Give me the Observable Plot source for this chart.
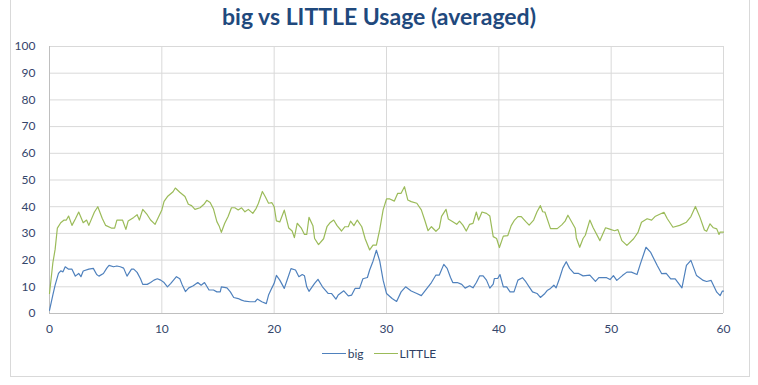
<!DOCTYPE html>
<html>
<head>
<meta charset="utf-8">
<script src="https://cdn.jsdelivr.net/npm/d3@7"></script>
<script src="https://cdn.jsdelivr.net/npm/@observablehq/plot@0.6"></script>
<style>
  html, body { margin: 0; padding: 0; background: #fff; width: 758px; height: 385px; overflow: hidden; }
  #frame { position: absolute; left: 10px; top: -2px; width: 738px; height: 377px; border: 1px solid #D9D9D9; }
  #title { position: absolute; left: 0; top: 2px; width: 758px; text-align: center; font-family: Lato, "Open Sans", sans-serif; font-weight: bold; font-size: 23px; color: #1F497D; }
  #chart { position: absolute; left: 0; top: 30px; }
  #legend { position: absolute; left: 0; top: 346px; width: 758px; display: flex; justify-content: center; align-items: center; font-family: Lato, sans-serif; font-size: 12px; color: #2E3F63; }
  .item { display: flex; align-items: center; margin: 0 5px; }
  .sw { display: inline-block; width: 24px; height: 0; border-top: 1.3px solid; margin-right: 2px; }
</style>
</head>
<body>
<div id="frame"></div>
<div id="title">big vs LITTLE Usage (averaged)</div>
<div id="chart"></div>
<div id="legend"></div>
<script>
const seriesNames = ["big", "LITTLE"];
const seriesColors = ["#4F81BD", "#9BBB59"];
const xTicks = [0, 10, 20, 30, 40, 50, 60];
const yTicks = [0, 10, 20, 30, 40, 50, 60, 70, 80, 90, 100];

const big = [[0,1.2],[0.3,7],[0.5,10.6],[0.8,15],[1,16],[1.2,15.6],[1.4,17.5],[1.7,16.6],[2,16.6],[2.3,14],[2.6,15],[2.8,13.8],[3,15.9],[3.5,16.6],[3.9,16.9],[4.2,14.6],[4.4,14],[4.8,15],[5.1,17],[5.3,18],[5.7,17.5],[6,17.8],[6.3,17.5],[6.6,17],[6.9,14],[7.3,16.6],[7.5,16.6],[7.8,15.4],[8.1,13],[8.3,10.9],[8.7,10.9],[9,11.6],[9.3,12.5],[9.6,13],[9.9,12.5],[10.2,11.6],[10.5,10],[10.8,11.3],[11.3,13.8],[11.6,13],[11.8,10.9],[12.1,8.2],[12.4,9.6],[12.8,10.4],[13.2,11.6],[13.5,10.6],[13.8,11.6],[14.2,8.8],[14.6,8.8],[14.9,8.1],[15.2,8.1],[15.3,10],[15.8,9.6],[16.1,8.1],[16.4,6],[16.8,5.6],[17.1,5],[17.4,4.6],[17.85,4.4],[18.3,4.4],[18.5,5.4],[18.9,4.4],[19.3,3.7],[19.5,6.9],[19.8,9.6],[20.0,11.3],[20.2,14.3],[20.5,12.5],[20.9,9.4],[21.2,13.1],[21.5,16.8],[21.9,16.3],[22.2,13.8],[22.5,14.6],[22.7,14.1],[22.9,10],[23.1,8.3],[23.6,11.3],[23.9,12.8],[24.3,10],[24.8,7.5],[25.1,7.5],[25.5,5.4],[25.7,6.9],[26.2,8.5],[26.6,6.6],[26.9,6.9],[27.2,9.4],[27.6,9.4],[27.9,13],[28.3,13.5],[28.5,16.3],[28.8,19.6],[29.1,23.7],[29.4,19.6],[29.7,12.5],[30.0,7.5],[30.5,5.6],[30.9,4.5],[31.3,8.1],[31.7,10],[32.2,8.4],[32.7,7.5],[33.1,6.7],[33.6,9.4],[34.0,11.6],[34.4,14.4],[34.7,14.4],[35.1,18.4],[35.4,16.9],[35.7,13.5],[35.9,11.6],[36.3,11.6],[36.7,10.9],[37.0,9.5],[37.4,10.4],[37.7,9.6],[38.0,11.6],[38.3,14.1],[38.6,14.1],[38.9,12.5],[39.2,9.5],[39.5,11],[39.6,13.1],[39.9,13.1],[40.1,14.6],[40.4,10],[40.7,10],[41.0,8.1],[41.35,8.1],[41.7,12.5],[42.1,13.4],[42.4,11.9],[42.7,10],[43.0,8.1],[43.4,7.5],[43.7,6],[44.1,7.5],[44.3,8.6],[44.6,9.4],[44.9,10.6],[45.1,9.6],[45.4,13.1],[45.7,17.1],[46.0,19.4],[46.3,16.9],[46.7,15],[47.1,15],[47.5,14.1],[48.1,14.4],[48.6,12],[48.9,13.4],[49.6,13.4],[49.9,12.7],[50.2,14.2],[50.5,12.4],[51.0,14.2],[51.4,15.5],[51.8,15.5],[52.3,14.6],[52.6,18.6],[53.1,24.8],[53.5,23],[54.1,18],[54.5,14.9],[54.9,15],[55.3,13],[55.7,13],[56.3,9.6],[56.7,18],[57.1,19.9],[57.6,14.2],[58.2,12.4],[58.5,12],[58.9,12.4],[59.4,8],[59.7,6.7],[59.9,8.4],[60,8.4]];

const little = [[0,7.5],[0.3,19],[0.5,24],[0.7,32],[1,34],[1.3,35],[1.5,35],[1.7,36.5],[2,33],[2.3,35.4],[2.6,38],[3,34],[3.3,35],[3.5,33],[4,38],[4.3,40],[4.7,35.6],[5,33],[5.5,32],[5.8,32],[6,35],[6.5,35],[6.8,31.5],[7,34.6],[7.5,36],[7.8,37],[8,35],[8.3,39],[8.7,37],[9,35],[9.4,33.4],[10,38.8],[10.2,42],[10.5,43.8],[11,45.6],[11.2,47],[11.6,45.4],[12.06,43.8],[12.36,40.9],[12.65,40.4],[12.95,39],[13.4,39.6],[13.75,40.9],[14,42.4],[14.3,41.6],[14.6,39.1],[14.9,34.4],[15.1,32.8],[15.3,30.4],[15.6,33.8],[15.9,36.3],[16.2,39.6],[16.5,39.6],[16.8,38.8],[17.1,39.6],[17.4,38.1],[17.7,39],[18.1,37.5],[18.4,39.4],[18.6,41.3],[18.95,45.7],[19.2,43.8],[19.5,41.3],[19.8,41.5],[20.0,40],[20.2,34.7],[20.5,34.3],[20.9,38.7],[21.3,32],[21.6,30.9],[21.8,28.4],[22.05,33.8],[22.4,32.1],[22.7,29.6],[22.9,29.6],[23.1,36],[23.45,32.9],[23.6,28.1],[23.95,25.8],[24.4,28],[24.7,32.5],[25.0,34.1],[25.3,35],[25.6,32.9],[26.0,30.9],[26.3,32.5],[26.6,32.5],[26.8,34.6],[27.1,32.9],[27.4,35],[27.8,32.5],[28.1,28],[28.5,23.8],[28.8,25.6],[29.1,25.6],[29.4,31.5],[29.7,38.8],[30.0,42.9],[30.3,42.9],[30.7,42.1],[31.0,45],[31.3,45],[31.6,47.5],[31.9,42.5],[32.2,41.9],[32.7,41.3],[33.1,38.8],[33.4,35],[33.7,31],[34.0,32.5],[34.4,30.8],[34.7,32],[34.9,36.4],[35.3,39],[35.5,35.4],[35.9,34.4],[36.25,33.4],[36.5,34.6],[36.8,33.1],[37.1,30.9],[37.4,33.4],[37.7,33.75],[38.0,38],[38.2,35],[38.5,38],[38.9,37.5],[39.2,36.5],[39.5,28.8],[39.8,28.1],[40.05,24.7],[40.4,29],[40.8,29.2],[41.1,32.9],[41.4,35],[41.7,36.3],[42.0,36.3],[42.4,34.4],[42.7,33.1],[43.1,35],[43.4,38.1],[43.7,40.4],[43.9,38.1],[44.1,38],[44.6,31.8],[44.9,31.8],[45.2,31.8],[45.6,33.2],[45.9,34.6],[46.15,36.8],[46.5,34.2],[46.8,31.9],[46.9,28.3],[47.2,24.8],[47.5,28.1],[47.7,29.3],[48.1,35],[48.4,32.1],[49.0,27.3],[49.5,32.1],[49.8,31.7],[50.3,31],[50.6,31.4],[50.95,27.3],[51.4,25.5],[52.0,28],[52.4,30.5],[52.7,34.2],[53.2,35.5],[53.6,35],[53.9,36.3],[54.7,37.9],[55.0,35.5],[55.5,32.3],[56.1,33],[56.7,34.2],[57.1,36.3],[57.5,40.1],[57.9,36.1],[58.3,31.3],[58.5,30.8],[58.8,33.6],[59.1,32.1],[59.4,31.7],[59.6,29.6],[59.7,30.5],[60,30.5]];

const rows = [
  ...big.map(([x, y]) => ({x, y, s: "big"})),
  ...little.map(([x, y]) => ({x, y, s: "LITTLE"}))
];

const tickColor = "#34466B";
const chart = Plot.plot({
  width: 758,
  height: 315,
  marginLeft: 49,
  marginRight: 35,
  marginTop: 16,
  marginBottom: 32,
  style: { fontFamily: "Lato, sans-serif", fontSize: "12px", color: tickColor, background: "transparent" },
  x: { domain: [0, 60] },
  y: { domain: [0, 100] },
  color: { domain: seriesNames, range: seriesColors },
  marks: [
    Plot.ruleY(yTicks, { stroke: "#D9D9D9", strokeWidth: 1 }),
    Plot.ruleX(xTicks, { stroke: "#D9D9D9", strokeWidth: 1 }),
    Plot.ruleX([0], { stroke: "#BFBFBF" }),
    Plot.ruleY([0], { stroke: "#BFBFBF" }),
    Plot.axisY(yTicks, { tickSize: 0, tickPadding: 14, label: null, fill: tickColor }),
    Plot.axisX(xTicks, { tickSize: 0, tickPadding: 11, label: null, fill: tickColor }),
    Plot.line(rows, { x: "x", y: "y", z: "s", stroke: "s", strokeWidth: 1.2 })
  ]
});
document.getElementById("chart").appendChild(chart);

const legend = document.getElementById("legend");
seriesNames.forEach((n, i) => {
  const item = document.createElement("div");
  item.className = "item";
  const sw = document.createElement("span");
  sw.className = "sw";
  sw.style.borderTopColor = seriesColors[i];
  item.appendChild(sw);
  const t = document.createElement("span");
  t.textContent = n;
  item.appendChild(t);
  legend.appendChild(item);
});
</script>
</body>
</html>
